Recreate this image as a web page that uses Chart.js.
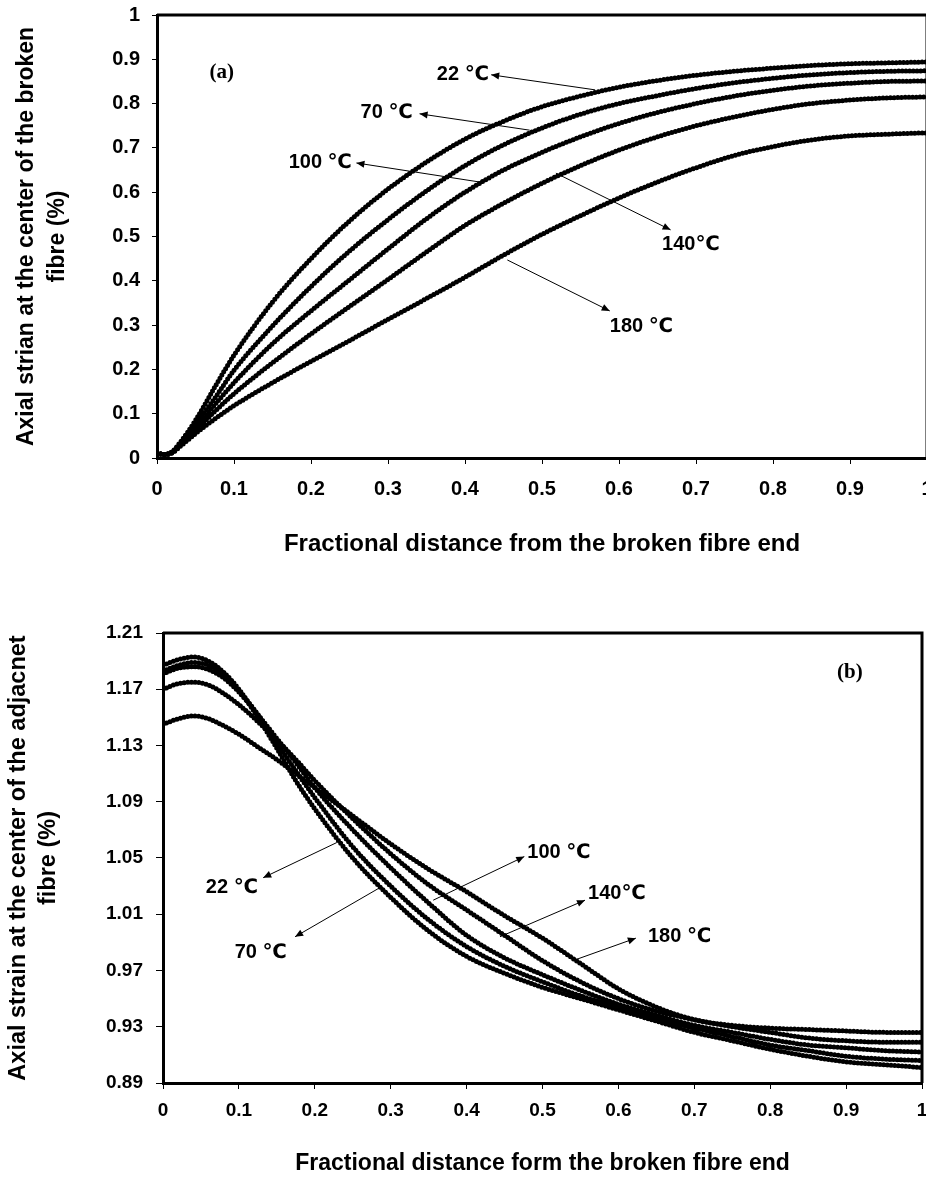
<!DOCTYPE html>
<html>
<head>
<meta charset="utf-8">
<script src="https://cdn.jsdelivr.net/npm/chart.js@4.4.0/dist/chart.umd.min.js"></script>
<style>
html, body { margin: 0; padding: 0; background: #fff; overflow: hidden; width: 926px; height: 1177px; }
canvas { position: absolute; left: 0; }
#chartA { top: 0; }
#chartB { top: 560px; }
</style>
</head>
<body>
<canvas id="chartA" width="940" height="560"></canvas>
<canvas id="chartB" width="926" height="617"></canvas>
<script>
// (a) broken fibre
const distA = [0, 0.01, 0.02, 0.03, 0.05, 0.075, 0.1, 0.15, 0.2, 0.25, 0.3, 0.35, 0.4, 0.45, 0.5, 0.55, 0.6, 0.65, 0.7, 0.75, 0.8, 0.85, 0.9, 0.95, 1.0];
const brokenT22  = [0.01, 0.008, 0.015, 0.035, 0.085, 0.16, 0.232, 0.352, 0.45, 0.535, 0.607, 0.668, 0.72, 0.76, 0.793, 0.817, 0.837, 0.852, 0.864, 0.873, 0.88, 0.886, 0.89, 0.892, 0.894];
const brokenT70  = [0.01, 0.008, 0.014, 0.032, 0.075, 0.135, 0.198, 0.298, 0.387, 0.467, 0.538, 0.603, 0.66, 0.707, 0.745, 0.776, 0.8, 0.818, 0.834, 0.847, 0.857, 0.865, 0.87, 0.873, 0.874];
const brokenT100 = [0.01, 0.008, 0.013, 0.03, 0.068, 0.12, 0.17, 0.258, 0.332, 0.402, 0.472, 0.54, 0.6, 0.65, 0.69, 0.725, 0.755, 0.78, 0.8, 0.817, 0.83, 0.84, 0.846, 0.85, 0.851];
const brokenT140 = [0.01, 0.008, 0.012, 0.028, 0.062, 0.105, 0.145, 0.215, 0.28, 0.342, 0.403, 0.465, 0.525, 0.575, 0.62, 0.66, 0.695, 0.725, 0.75, 0.77, 0.787, 0.8, 0.808, 0.813, 0.815];
const brokenT180 = [0.01, 0.008, 0.012, 0.026, 0.055, 0.088, 0.118, 0.17, 0.218, 0.265, 0.313, 0.36, 0.408, 0.458, 0.505, 0.547, 0.587, 0.623, 0.655, 0.683, 0.703, 0.718, 0.727, 0.731, 0.734];

// (b) adjacent fibre
const distB = [0, 0.02, 0.04, 0.06, 0.08, 0.1, 0.125, 0.15, 0.175, 0.2, 0.25, 0.3, 0.35, 0.4, 0.45, 0.5, 0.55, 0.6, 0.65, 0.7, 0.75, 0.8, 0.85, 0.9, 0.95, 1.0];
const adjT22  = [1.187, 1.191, 1.193, 1.190, 1.182, 1.170, 1.150, 1.128, 1.105, 1.085, 1.050, 1.022, 0.998, 0.980, 0.968, 0.958, 0.950, 0.942, 0.934, 0.926, 0.920, 0.914, 0.909, 0.905, 0.903, 0.901];
const adjT70  = [1.183, 1.187, 1.189, 1.187, 1.180, 1.169, 1.152, 1.132, 1.112, 1.093, 1.058, 1.030, 1.006, 0.987, 0.973, 0.962, 0.952, 0.944, 0.936, 0.929, 0.923, 0.917, 0.913, 0.909, 0.907, 0.906];
const adjT100 = [1.181, 1.185, 1.186, 1.184, 1.178, 1.168, 1.152, 1.135, 1.118, 1.100, 1.070, 1.043, 1.018, 0.995, 0.979, 0.967, 0.956, 0.946, 0.938, 0.931, 0.926, 0.921, 0.917, 0.915, 0.913, 0.912];
const adjT140 = [1.170, 1.174, 1.175, 1.173, 1.167, 1.159, 1.147, 1.134, 1.120, 1.105, 1.078, 1.053, 1.031, 1.013, 0.995, 0.977, 0.962, 0.950, 0.941, 0.935, 0.930, 0.926, 0.922, 0.920, 0.919, 0.919];
const adjT180 = [1.145, 1.149, 1.151, 1.149, 1.144, 1.138, 1.129, 1.120, 1.110, 1.100, 1.080, 1.060, 1.042, 1.026, 1.009, 0.993, 0.975, 0.957, 0.944, 0.935, 0.931, 0.929, 0.928, 0.927, 0.926, 0.926];

// ticks
const distTicks = [0, 0.1, 0.2, 0.3, 0.4, 0.5, 0.6, 0.7, 0.8, 0.9, 1];
const strainTicksA = [0, 0.1, 0.2, 0.3, 0.4, 0.5, 0.6, 0.7, 0.8, 0.9, 1];
const strainTicksB = [0.89, 0.93, 0.97, 1.01, 1.05, 1.09, 1.13, 1.17, 1.21];

// arrow labels, in data units
const notesA = [
  { text: '22 ℃',  at: [0.431, 0.865], align: 'right', from: [0.569, 0.831], to: [0.434, 0.865] },
  { text: '70 ℃',  at: [0.332, 0.781], align: 'right', from: [0.484, 0.740], to: [0.341, 0.777] },
  { text: '100 ℃', at: [0.253, 0.666], align: 'right', from: [0.419, 0.623], to: [0.259, 0.666] },
  { text: '140℃',  at: [0.656, 0.481], align: 'left',  from: [0.518, 0.643], to: [0.667, 0.515] },
  { text: '180 ℃', at: [0.588, 0.298], align: 'left',  from: [0.455, 0.447], to: [0.588, 0.332] }
];
const notesB = [
  { text: '22 ℃',  at: [0.125, 1.029], align: 'right', from: [0.229, 1.061], to: [0.132, 1.036] },
  { text: '70 ℃',  at: [0.163, 0.983], align: 'right', from: [0.286, 1.029], to: [0.174, 0.994] },
  { text: '100 ℃', at: [0.480, 1.054], align: 'left',  from: [0.356, 1.020], to: [0.476, 1.051] },
  { text: '140℃',  at: [0.560, 1.025], align: 'left',  from: [0.444, 0.994], to: [0.556, 1.020] },
  { text: '180 ℃', at: [0.639, 0.994], align: 'left',  from: [0.540, 0.977], to: [0.623, 0.993] }
];

Chart.defaults.font.family = "'Liberation Sans', Arial, 'DejaVu Sans', sans-serif";
Chart.defaults.font.weight = 'bold';
Chart.defaults.color = '#000';

function fmt(v) { return String(parseFloat(v.toFixed(2))); }

function toSeries(xs, ys) { return xs.map((x, i) => ({ x: x, y: ys[i] })); }

function dotted(data) {
  return {
    data: data,
    borderColor: '#000',
    borderWidth: 5,
    borderDash: [0, 3.7],
    borderCapStyle: 'round',
    pointRadius: 0,
    fill: false,
    cubicInterpolationMode: 'monotone'
  };
}

function drawArrow(ctx, x1, y1, x2, y2) {
  ctx.beginPath();
  ctx.moveTo(x1, y1);
  ctx.lineTo(x2, y2);
  ctx.stroke();
  const ang = Math.atan2(y2 - y1, x2 - x1), L = 8, W = 3.5;
  ctx.beginPath();
  ctx.moveTo(x2, y2);
  ctx.lineTo(x2 - L * Math.cos(ang) + W * Math.sin(ang), y2 - L * Math.sin(ang) - W * Math.cos(ang));
  ctx.lineTo(x2 - L * Math.cos(ang) - W * Math.sin(ang), y2 - L * Math.sin(ang) + W * Math.cos(ang));
  ctx.closePath();
  ctx.fill();
}

// frame on top/right + arrows + panel letter
function notesPlugin(notes, panel, panelAt) {
  return {
    id: 'notes',
    afterDatasetsDraw(chart) {
      const { ctx, chartArea: a } = chart;
      const sx = chart.scales.x, sy = chart.scales.y;
      ctx.save();
      ctx.strokeStyle = '#000';
      ctx.lineWidth = 3;
      ctx.beginPath();
      ctx.moveTo(a.left, a.top);
      ctx.lineTo(a.right, a.top);
      ctx.lineTo(a.right, a.bottom);
      ctx.stroke();

      ctx.lineWidth = 1;
      ctx.fillStyle = '#000';
      notes.forEach(n => {
        drawArrow(ctx, sx.getPixelForValue(n.from[0]), sy.getPixelForValue(n.from[1]),
                       sx.getPixelForValue(n.to[0]), sy.getPixelForValue(n.to[1]));
        ctx.font = "bold 20px 'Liberation Sans', Arial, 'DejaVu Sans', sans-serif";
        ctx.textAlign = n.align;
        ctx.textBaseline = 'middle';
        ctx.fillText(n.text, sx.getPixelForValue(n.at[0]), sy.getPixelForValue(n.at[1]));
      });

      ctx.font = "bold 21px 'Liberation Serif', 'Times New Roman', serif";
      ctx.textAlign = 'center';
      ctx.fillText(panel, sx.getPixelForValue(panelAt[0]), sy.getPixelForValue(panelAt[1]));
      ctx.restore();
    }
  };
}

function makeChart(id, cfg) {
  return new Chart(document.getElementById(id), {
    type: 'line',
    data: { datasets: cfg.series.map(dotted) },
    options: {
      responsive: false,
      animation: false,
      devicePixelRatio: 1,
      layout: { padding: cfg.padding },
      plugins: { legend: { display: false }, tooltip: { enabled: false } },
      scales: {
        x: {
          type: 'linear', min: 0, max: 1,
          afterBuildTicks: s => { s.ticks = distTicks.map(v => ({ value: v })); },
          afterFit: s => { s.height = cfg.xHeight; s.paddingLeft = 0; s.paddingRight = 0; },
          grid: { drawOnChartArea: false, drawTicks: true, tickLength: 6, color: '#000', tickWidth: 1 },
          border: { display: true, width: 3, color: '#000' },
          ticks: { padding: cfg.xTickPad, maxRotation: 0, autoSkip: false, font: { size: cfg.tickSize, weight: 'bold' }, callback: v => fmt(v) },
          title: { display: true, text: cfg.xTitle, font: { size: cfg.xTitleSize, weight: 'bold', lineHeight: 1.2 }, padding: { top: 0, bottom: cfg.xTitlePad } }
        },
        y: {
          type: 'linear', min: cfg.yTicks[0], max: cfg.yTicks[cfg.yTicks.length - 1],
          afterBuildTicks: s => { s.ticks = cfg.yTicks.map(v => ({ value: v })); },
          afterFit: s => { s.width = cfg.yWidth; s.paddingTop = 0; s.paddingBottom = 0; },
          grid: { drawOnChartArea: false, drawTicks: true, tickLength: cfg.yTickLen, color: '#000', tickWidth: 1 },
          border: { display: true, width: 3, color: '#000' },
          ticks: { padding: cfg.yTickPad, autoSkip: false, font: { size: cfg.tickSize, weight: 'bold' }, callback: v => fmt(v) },
          title: { display: true, text: cfg.yTitle, font: { size: cfg.yTitleSize, weight: 'bold', lineHeight: cfg.yTitleLH }, padding: { top: cfg.yTitlePad, bottom: 0 } }
        }
      }
    },
    plugins: [notesPlugin(cfg.notes, cfg.panel, cfg.panelAt)]
  });
}

makeChart('chartA', {
  series: [brokenT22, brokenT70, brokenT100, brokenT140, brokenT180].map(ys => toSeries(distA, ys)),
  padding: { top: 15, right: 13, left: 0, bottom: 0 },
  xHeight: 102, xTickPad: 13, xTitlePad: 1, xTitleSize: 24, tickSize: 20,
  yWidth: 157, yTickLen: 5, yTickPad: 12, yTitleSize: 23, yTitleLH: 1.35, yTitlePad: 11,
  yTicks: strainTicksA,
  xTitle: 'Fractional distance from the broken fibre end',
  yTitle: ['Axial strian at the center of the broken', 'fibre (%)'],
  notes: notesA, panel: '(a)', panelAt: [0.084, 0.869]
});

makeChart('chartB', {
  series: [adjT22, adjT70, adjT100, adjT140, adjT180].map(ys => toSeries(distB, ys)),
  padding: { top: 73, right: 4, left: 0, bottom: 0 },
  xHeight: 94, xTickPad: 10, xTitlePad: 0, xTitleSize: 23, tickSize: 19,
  yWidth: 163, yTickLen: 7, yTickPad: 13, yTitleSize: 23.5, yTitleLH: 1.28, yTitlePad: 3,
  yTicks: strainTicksB,
  xTitle: 'Fractional distance form the broken fibre end',
  yTitle: ['Axial strain at the center of the adjacnet', 'fibre (%)'],
  notes: notesB, panel: '(b)', panelAt: [0.905, 1.182]
});
</script>
</body>
</html>
